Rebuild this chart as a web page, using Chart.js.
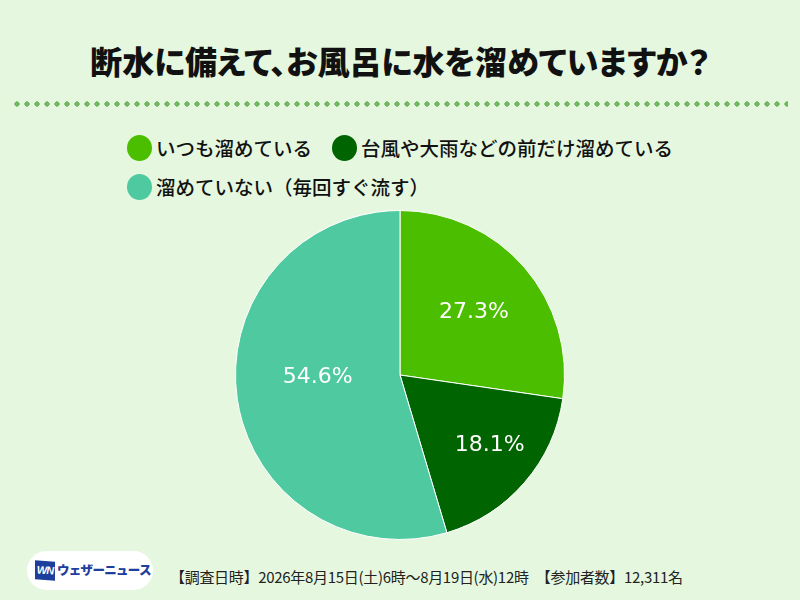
<!DOCTYPE html>
<html><head><meta charset="utf-8">
<script src="https://cdn.jsdelivr.net/npm/chart.js@4/dist/chart.umd.min.js"></script>
<style>
html,body{margin:0;padding:0;}
body{width:800px;height:600px;background:#e5f8df;position:relative;overflow:hidden;font-family:"Noto Sans CJK JP","Noto Sans",sans-serif;}
#title{position:absolute;left:0;top:37px;width:800px;text-align:center;font-size:32px;font-weight:900;color:#111;letter-spacing:0px;line-height:46px;font-feature-settings:"palt";white-space:nowrap;}
#dots{position:absolute;left:12px;top:101px;width:776px;height:6px;
 background-image:radial-gradient(circle,#70b760 2.4px,transparent 2.9px);background-size:10px 6px;background-repeat:repeat-x;}
#legend{position:absolute;left:127px;top:128px;width:640px;font-size:19.5px;font-weight:500;color:#111;}
.row{display:flex;height:39px;align-items:center;white-space:nowrap;}
.item{display:flex;align-items:center;margin-right:20px;}
.sw{width:25px;height:26px;border-radius:50%;margin-right:4px;}
#wrap{position:absolute;left:230px;top:205px;width:340px;height:340px;}
#logo{position:absolute;left:27px;top:551px;width:126px;height:39px;background:#fff;border-radius:20px;}
#wn{position:absolute;left:8px;top:10px;width:20px;height:19px;background:#1d3e9c;color:#fff;font:italic bold 11px "Liberation Sans",sans-serif;line-height:19px;text-align:center;letter-spacing:-1px;transform:skewY(4deg);}
#wt{position:absolute;left:30px;top:8px;font-size:12.5px;font-weight:900;color:#1d3e9c;letter-spacing:-0.7px;line-height:22px;white-space:nowrap;}
#foot{position:absolute;left:170px;top:566px;font-size:15px;color:#222;line-height:22px;white-space:pre;letter-spacing:-0.3px;}
</style></head>
<body>
<div id="title">断水に備えて、お風呂に水を溜めていますか？</div>
<div id="dots"></div>
<div id="legend"></div>
<div id="wrap"><canvas id="c" width="340" height="340"></canvas></div>
<div id="logo"><div id="wn">WN</div><div id="wt">ウェザーニュース</div></div>
<div id="foot">【調査日時】2026年8月15日(土)6時～8月19日(水)12時　【参加者数】12,311名</div>
<script>
const categories = ["いつも溜めている", "台風や大雨などの前だけ溜めている", "溜めていない（毎回すぐ流す）"];
const values = [27.3, 18.1, 54.6];
const colors = ["#4cbe00", "#006400", "#4ec9a0"];
const legendRows = [[0, 1], [2]];

const lg = document.getElementById('legend');
legendRows.forEach(r => {
  const row = document.createElement('div'); row.className = 'row';
  r.forEach(i => {
    const it = document.createElement('div'); it.className = 'item';
    const sw = document.createElement('div'); sw.className = 'sw'; sw.style.background = colors[i];
    const tx = document.createElement('span'); tx.textContent = categories[i];
    it.appendChild(sw); it.appendChild(tx); row.appendChild(it);
  });
  lg.appendChild(row);
});

const labelPlugin = {
  id: 'pctLabels',
  afterDatasetsDraw(chart, args, opts) {
    const ctx = chart.ctx;
    const meta = chart.getDatasetMeta(0);
    ctx.save();
    ctx.fillStyle = '#ffffff';
    ctx.font = '22px "DejaVu Sans", sans-serif';
    ctx.textAlign = 'center';
    ctx.textBaseline = 'middle';
    meta.data.forEach((arc, i) => {
      const p = arc.getProps(['x', 'y', 'startAngle', 'endAngle', 'outerRadius']);
      const mid = (p.startAngle + p.endAngle) / 2 + (opts.angleShift[i] || 0);
      const d = p.outerRadius * opts.radial[i];
      ctx.fillText(values[i].toFixed(1) + '%', p.x + Math.cos(mid) * d, p.y + Math.sin(mid) * d);
    });
    ctx.restore();
  }
};

new Chart(document.getElementById('c'), {
  type: 'pie',
  data: {
    labels: categories,
    datasets: [{ data: values, backgroundColor: colors, borderColor: '#ffffff', borderWidth: 1 }]
  },
  options: {
    responsive: false,
    animation: false,
    layout: { padding: 5 },
    plugins: {
      legend: { display: false },
      tooltip: { enabled: false },
      pctLabels: { radial: [0.59, 0.695, 0.5], angleShift: [0.01, -0.046, 0.12] }
    }
  },
  plugins: [labelPlugin]
});
</script>
</body></html>
